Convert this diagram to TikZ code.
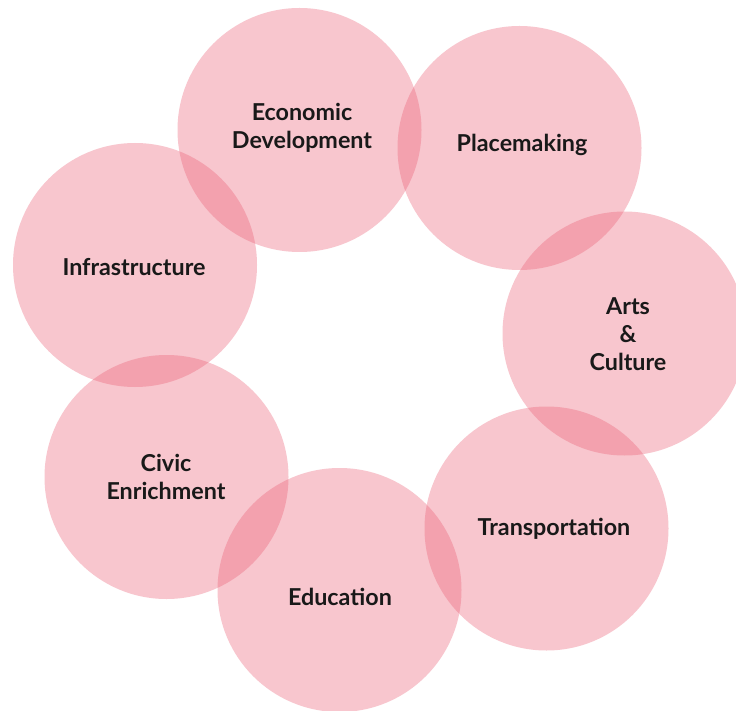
\documentclass[tikz,border=0pt]{standalone}
\usepackage{fontspec}
\setmainfont{Lato}
\definecolor{petal}{RGB}{235,92,115}
\begin{document}
\begin{tikzpicture}[x=1pt,y=-1pt,
  petalc/.style={circle,fill=petal,fill opacity=0.35,minimum size=244pt,inner sep=0pt,draw=none},
  lbl/.style={font=\bfseries\fontsize{23.3}{28}\selectfont,align=center,text=black!90}]
\useasboundingbox[fill=white] (0,0) rectangle (736,711);
\node[petalc] (eco) at (299.5,130) {};
\node[petalc] (pla) at (519.5,148) {};
\node[petalc] (art) at (624.5,333.5) {};
\node[petalc] (tra) at (546.5,528.5) {};
\node[petalc] (edu) at (339.5,590) {};
\node[petalc] (civ) at (166.5,477) {};
\node[petalc] (inf) at (135,265) {};
\node[lbl] (ecot) at (302,128) {Economic\\Development};
\node[lbl] (plat) at (522,145) {Placemaking};
\node[lbl] (artt) at (628,334) {Arts\\\&\\Culture};
\node[lbl] (trat) at (554,529) {Transportation};
\node[lbl] (edut) at (340,597) {Education};
\node[lbl] (civt) at (166,477) {Civic\\Enrichment};
\node[lbl] (inft) at (134,267) {Infrastructure};
\end{tikzpicture}
\end{document}
